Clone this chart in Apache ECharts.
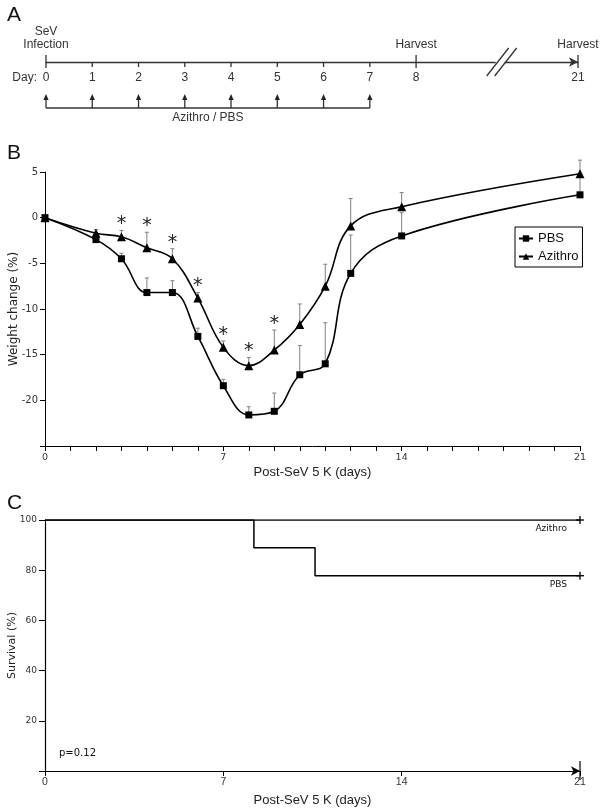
<!DOCTYPE html>
<html>
<head>
<meta charset="utf-8">
<script src="https://cdn.jsdelivr.net/npm/echarts@6/dist/echarts.min.js"></script>
<style>html,body{margin:0;padding:0;background:#fff;}#chart{width:600px;height:808px;}</style>
</head>
<body>
<div id="chart"></div>
<script>
// ---------- Panel A: schedule ----------
const scheduleLabels = ['0','1','2','3','4','5','6','7','8','21'];
const schedulePos = [0,1,2,3,4,5,6,7,8,11.5];
const eventNames = ['SeV\nInfection','','','','','','','','Harvest','Harvest'];
const dosingDays = [0,1,2,3,4,5,6,7];
const dosingLabel = 'Azithro / PBS';
const breakPos = 9.85;

// ---------- Panel B: weight change ----------
const days = [0,2,3,4,5,6,7,8,9,10,11,12,14,21];
const pbsMean  = [0,-2.4,-4.5,-8.2,-8.2,-13.0,-18.4,-21.6,-21.2,-17.2,-16.0,-6.1,-2.0,2.5];
const pbsUpper = [0,-2.0,-3.9,-6.6,-6.9,-12.1,-17.7,-20.7,-19.2,-14.0,-11.5,-1.9,0.55,4.6];
const azMean   = [0,-1.7,-2.1,-3.3,-4.5,-8.8,-14.2,-16.2,-14.5,-11.7,-7.5,-0.9,1.2,4.8];
const azUpper  = [0,-1.3,-1.4,-1.6,-3.4,-8.2,-13.5,-15.3,-12.3,-9.45,-5.1,2.1,2.75,6.3];
const sigDays  = [3,4,5,6,7,8,9];
const weightTicksShown = [7];

// ---------- Panel C: survival ----------
const pbsSurvTimes = [0, 8.2, 10.6, 21];
const pbsSurv      = [100, 88.9, 77.8, 77.8];
const azSurvTimes  = [0, 21];
const azSurv       = [100, 100];
const censorGroups = ['Azithro','PBS'];
const censorTimes  = [21, 21];
const censorSurv   = [100, 77.8];
const pValueText   = 'p=0.12';

const INK = '#111';
const chart = echarts.init(document.getElementById('chart'), null, {renderer:'canvas'});

function errRender(){
  return function(params, api){
    const x = api.value(0), m = api.value(1), u = api.value(2);
    if (u === m) return null;
    const a = api.coord([x, m]), b = api.coord([x, u]);
    return {type:'group', children:[
      {type:'line', shape:{x1:a[0], y1:a[1], x2:b[0], y2:b[1]}, style:{stroke:'#808080', lineWidth:1}},
      {type:'line', shape:{x1:b[0]-2, y1:b[1], x2:b[0]+2, y2:b[1]}, style:{stroke:'#808080', lineWidth:1}}
    ]};
  };
}

const fontA = '"Liberation Sans", Arial, sans-serif';
const fontB = '"DejaVu Sans", Verdana, sans-serif';

const option = {
  animation: false,
  backgroundColor: '#fff',
  title: [
    {text:'A', left:2, top:0, textStyle:{fontFamily:fontA, fontWeight:'normal', fontSize:21, color:INK}},
    {text:'B', left:2, top:138, textStyle:{fontFamily:fontA, fontWeight:'normal', fontSize:21, color:INK}},
    {text:'C', left:2, top:488, textStyle:{fontFamily:fontA, fontWeight:'normal', fontSize:21, color:INK}}
  ],
  graphic: [
    {type:'text', left:59, top:748, style:{text:pValueText, font:'10px ' + fontB, fill:INK}}
  ],
  legend: {
    data:['PBS','Azithro'], orient:'vertical', left:515, top:227,
    padding:[5,4,4,3], itemGap:5, itemWidth:14, itemHeight:8,
    borderColor:'#000', borderWidth:1, borderRadius:0,
    textStyle:{fontFamily:fontA, fontSize:13, color:INK}
  },
  grid: [
    {left:46, right:22, top:62, height:46, outerBoundsMode:'none', containLabel:false},
    {left:45, right:20, top:172, height:274, outerBoundsMode:'none', containLabel:false},
    {left:45, right:20, top:520, height:251, outerBoundsMode:'none', containLabel:false}
  ],
  xAxis: [
    {gridIndex:0, type:'value', min:0, max:11.5, position:'top',
     axisLine:{onZero:false, symbol:['none','arrow'], symbolSize:[7,9], lineStyle:{color:'#333', width:1.3}},
     axisTick:{show:false}, axisLabel:{show:false}, splitLine:{show:false}},
    {gridIndex:1, type:'value', min:0, max:21, interval:1,
     name:'Post-SeV 5 K (days)', nameLocation:'middle', nameGap:20,
     nameTextStyle:{fontFamily:fontA, fontSize:13, color:'#222'},
     axisLine:{onZero:false, lineStyle:{color:'#000', width:1}},
     axisTick:{length:5, lineStyle:{color:'#000'}},
     axisLabel:{fontFamily:fontB, fontSize:9.5, color:'#333', margin:7,
       formatter: v => (v % weightTicksShown[0] === 0 ? String(v) : '')},
     splitLine:{show:false}},
    {gridIndex:2, type:'value', min:0, max:21, interval:7,
     name:'Post-SeV 5 K (days)', nameLocation:'middle', nameGap:23,
     nameTextStyle:{fontFamily:fontA, fontSize:13, color:'#222'},
     axisLine:{onZero:false, symbol:['none','arrow'], symbolSize:[7,9], lineStyle:{color:'#000', width:1.2}},
     axisTick:{length:5, lineStyle:{color:'#000'}},
     axisLabel:{fontFamily:fontA, fontSize:10.5, color:'#333', margin:6},
     splitLine:{show:false}}
  ],
  yAxis: [
    {gridIndex:0, type:'value', min:0, max:1, show:false},
    {gridIndex:1, type:'value', min:-25, max:5, interval:5,
     name:'Weight change (%)', nameLocation:'middle', nameGap:25, nameMoveOverlap:false,
     nameTextStyle:{fontFamily:fontB, fontSize:12, color:'#222'},
     axisLine:{show:true, onZero:false, lineStyle:{color:'#000', width:1}},
     axisTick:{show:true, length:5, lineStyle:{color:'#000'}},
     axisLabel:{fontFamily:fontB, fontSize:10, color:'#333', margin:7,
       formatter: v => (v === -25 ? '' : String(v))},
     splitLine:{show:false}},
    {gridIndex:2, type:'value', min:0, max:100, interval:20,
     name:'Survival (%)', nameLocation:'middle', nameGap:27, nameMoveOverlap:false,
     nameTextStyle:{fontFamily:fontB, fontSize:11, color:'#222'},
     axisLine:{show:true, onZero:false, lineStyle:{color:'#000', width:1.2}},
     axisTick:{show:true, length:6, lineStyle:{color:'#000'}},
     axisLabel:{fontFamily:fontB, fontSize:9, color:'#333', margin:8,
       formatter: v => (v === 0 ? '' : String(v))},
     splitLine:{show:false}}
  ],
  series: [
    // ----- Panel A -----
    {type:'custom', xAxisIndex:0, yAxisIndex:0, silent:true,
     data: schedulePos.map((p,i)=>[p,1,i]),
     renderItem: function(params, api){
       const i = api.value(2);
       const p = api.coord([api.value(0), 1]);
       const ev = eventNames[i] !== '';
       const ch = [
         {type:'line', shape:{x1:p[0], y1:p[1]-(ev?7:0), x2:p[0], y2:p[1]+(ev?6:5)}, style:{stroke:'#333', lineWidth:1.3}},
         {type:'text', style:{text:scheduleLabels[i], x:p[0], y:p[1]+16, align:'center', verticalAlign:'middle', font:'12px ' + fontA, fill:'#333'}}
       ];
       if (ev) ch.push({type:'text', style:{text:eventNames[i], x:p[0], y:p[1]-11, align:'center', verticalAlign:'bottom', font:'12px ' + fontA, lineHeight:13, fill:'#333'}});
       if (i === 0) ch.push({type:'text', style:{text:'Day:', x:p[0]-9, y:p[1]+16, align:'right', verticalAlign:'middle', font:'12px ' + fontA, fill:'#333'}});
       return {type:'group', children:ch};
     }},
    {type:'custom', xAxisIndex:0, yAxisIndex:0, silent:true,
     data: [[breakPos, 1]],
     renderItem: function(params, api){
       const p = api.coord([api.value(0), 1]);
       const mk = dx => ({type:'line', shape:{x1:p[0]+dx-11, y1:p[1]+14, x2:p[0]+dx+11, y2:p[1]-14}, style:{stroke:'#333', lineWidth:1.3}});
       return {type:'group', children:[
         {type:'rect', shape:{x:p[0]-6, y:p[1]-2, width:9, height:4}, style:{fill:'#fff'}},
         mk(-4), mk(4)
       ]};
     }},
    {type:'custom', xAxisIndex:0, yAxisIndex:0, silent:true,
     data: dosingDays.map(d=>[d,0]),
     renderItem: function(params, api){
       const p = api.coord([api.value(0), 0]);
       return {type:'group', children:[
         {type:'line', shape:{x1:p[0], y1:p[1], x2:p[0], y2:p[1]-9}, style:{stroke:'#333', lineWidth:1.3}},
         {type:'polygon', shape:{points:[[p[0],p[1]-14],[p[0]-2.6,p[1]-8],[p[0]+2.6,p[1]-8]]}, style:{fill:'#222'}}
       ]};
     }},
    {type:'custom', xAxisIndex:0, yAxisIndex:0, silent:true,
     data: [[dosingDays[0], 0]],
     renderItem: function(params, api){
       const a = api.coord([dosingDays[0], 0]);
       const b = api.coord([dosingDays[dosingDays.length-1], 0]);
       return {type:'group', children:[
         {type:'line', shape:{x1:a[0], y1:a[1], x2:b[0], y2:b[1]}, style:{stroke:'#333', lineWidth:1.3}},
         {type:'text', style:{text:dosingLabel, x:(a[0]+b[0])/2, y:a[1]+10, align:'center', verticalAlign:'middle', font:'12px ' + fontA, fill:'#333'}}
       ]};
     }},
    // ----- Panel B -----
    {type:'custom', name:'PBS err', xAxisIndex:1, yAxisIndex:1, silent:true, z:1,
     data: days.map((d,i)=>[d, pbsMean[i], pbsUpper[i]]), renderItem: errRender()},
    {type:'custom', name:'Azithro err', xAxisIndex:1, yAxisIndex:1, silent:true, z:1,
     data: days.map((d,i)=>[d, azMean[i], azUpper[i]]), renderItem: errRender()},
    {type:'line', name:'PBS', xAxisIndex:1, yAxisIndex:1, z:3,
     data: days.map((d,i)=>[d, pbsMean[i]]), smooth:0.4,
     symbol:'rect', symbolSize:7, showAllSymbol:true,
     lineStyle:{color:'#000', width:1.6}, itemStyle:{color:'#000'}},
    {type:'line', name:'Azithro', xAxisIndex:1, yAxisIndex:1, z:3,
     data: days.map((d,i)=>[d, azMean[i]]), smooth:0.4,
     symbol:'triangle', symbolSize:9, showAllSymbol:true,
     lineStyle:{color:'#000', width:1.6}, itemStyle:{color:'#000'}},
    {type:'custom', xAxisIndex:1, yAxisIndex:1, silent:true, z:4,
     data: sigDays.map(d=>[d, azUpper[days.indexOf(d)]]),
     renderItem: function(params, api){
       const p = api.coord([api.value(0), api.value(1)]);
       return {type:'text', style:{text:'*', x:p[0], y:p[1]-6, align:'center', verticalAlign:'middle', font:'19px ' + fontB, fill:'#222'}};
     }},
    // ----- Panel C -----
    {type:'line', name:'Azithro survival', xAxisIndex:2, yAxisIndex:2, step:'end', symbol:'none',
     data: azSurvTimes.map((t,i)=>[t, azSurv[i]]), lineStyle:{color:'#000', width:1.5}},
    {type:'line', name:'PBS survival', xAxisIndex:2, yAxisIndex:2, step:'end', symbol:'none',
     data: pbsSurvTimes.map((t,i)=>[t, pbsSurv[i]]), lineStyle:{color:'#000', width:1.5}},
    {type:'custom', xAxisIndex:2, yAxisIndex:2, silent:true, z:5,
     data: censorTimes.map((t,i)=>[t, censorSurv[i], i]),
     renderItem: function(params, api){
       const p = api.coord([api.value(0), api.value(1)]);
       const i = api.value(2);
       return {type:'group', children:[
         {type:'line', shape:{x1:p[0]-4, y1:p[1], x2:p[0]+4, y2:p[1]}, style:{stroke:'#000', lineWidth:1.3}},
         {type:'line', shape:{x1:p[0], y1:p[1]-4, x2:p[0], y2:p[1]+4}, style:{stroke:'#000', lineWidth:1.3}},
         {type:'text', style:{text:censorGroups[i], x:p[0]-13, y:p[1]+9, align:'right', verticalAlign:'middle', font:'9px ' + fontB, fill:INK}}
       ]};
     }},
    {type:'custom', xAxisIndex:2, yAxisIndex:2, silent:true, z:5,
     data: [[21, 0]],
     renderItem: function(params, api){
       const p = api.coord([api.value(0), api.value(1)]);
       return {type:'line', shape:{x1:p[0], y1:p[1]-10, x2:p[0], y2:p[1]+9}, style:{stroke:'#000', lineWidth:1.2}};
     }}
  ]
};
chart.setOption(option);
</script>
</body>
</html>
